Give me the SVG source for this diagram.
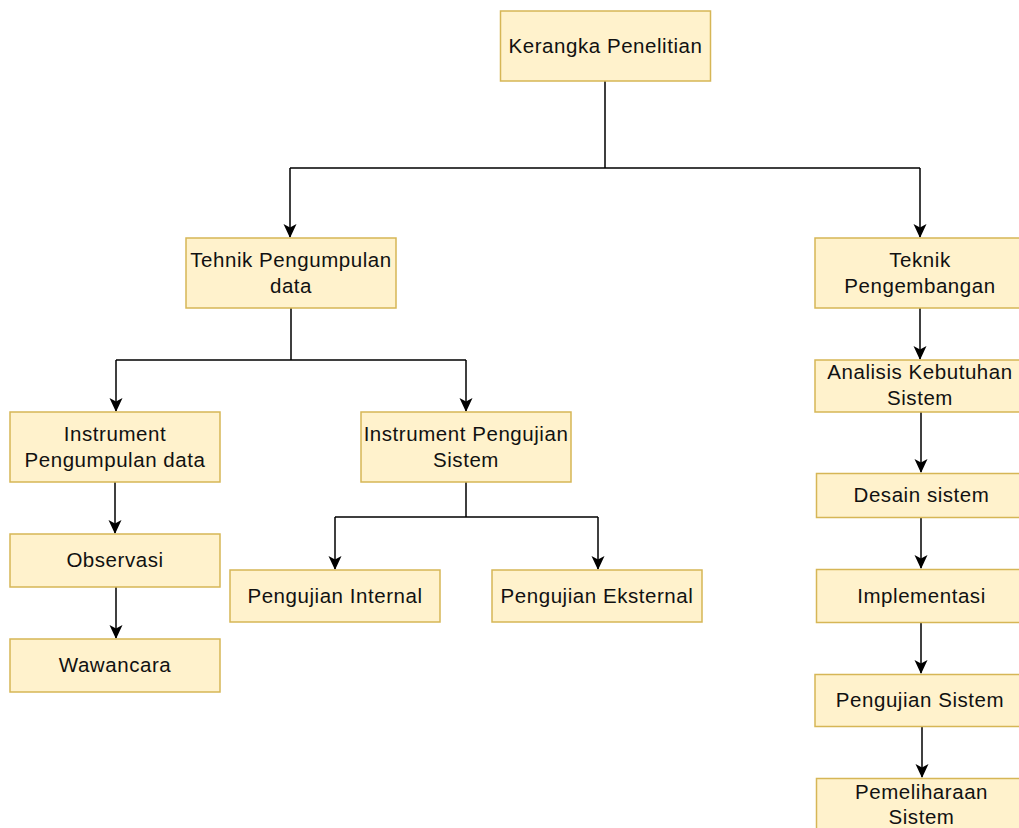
<svg xmlns="http://www.w3.org/2000/svg" width="1019" height="828" viewBox="0 0 1019 828">
<style>
.box{fill:#fff2cc;stroke:#d6b656;stroke-width:1.5}
.t{font-family:"Liberation Sans",Arial,sans-serif;font-size:20.5px;letter-spacing:0.55px;fill:#111;text-anchor:middle}
.c{fill:none;stroke:#000;stroke-width:1.5}
.a{marker-end:url(#arr)}
</style>
<defs>
<marker id="arr" markerUnits="userSpaceOnUse" viewBox="0 0 14 14" refX="13" refY="7" markerWidth="14" markerHeight="14" orient="auto">
<path d="M0,0.5 L14,7 L0,13.5 L3.5,7 Z" fill="#000"/>
</marker>
</defs>
<rect width="1019" height="828" fill="#fff"/>
<g id="connectors">
<path class="c" d="M605,81 V168 M290,168 H920"/>
<path class="c a" d="M290,168 V237"/>
<path class="c a" d="M920,168 V237"/>
<path class="c" d="M291,308 V360 M116,360 H466"/>
<path class="c a" d="M116,360 V411"/>
<path class="c a" d="M466,360 V411"/>
<path class="c a" d="M115,482 V533"/>
<path class="c a" d="M116,587 V638"/>
<path class="c" d="M466,482 V517 M335,517 H598"/>
<path class="c a" d="M335,517 V569"/>
<path class="c a" d="M598,517 V569"/>
<path class="c a" d="M920,308 V359"/>
<path class="c a" d="M921,412 V472"/>
<path class="c a" d="M921,517 V568"/>
<path class="c a" d="M921,622 V673"/>
<path class="c a" d="M922,727 V777"/>
</g>
<g id="n-kerangka"><rect class="box" x="500.5" y="11" width="210" height="70"/><text class="t" x="605.5" y="53">Kerangka Penelitian</text></g>
<g id="n-tehnik"><rect class="box" x="186" y="238" width="210" height="70"/><text class="t" x="291" y="267">Tehnik Pengumpulan</text><text class="t" x="291" y="293">data</text></g>
<g id="n-teknik"><rect class="box" x="815" y="238" width="210" height="70"/><text class="t" x="920" y="267">Teknik</text><text class="t" x="920" y="293">Pengembangan</text></g>
<g id="n-instr-pengumpulan"><rect class="box" x="10" y="412" width="210" height="70"/><text class="t" x="115" y="441">Instrument</text><text class="t" x="115" y="467">Pengumpulan data</text></g>
<g id="n-instr-pengujian"><rect class="box" x="361" y="412" width="210" height="70"/><text class="t" x="466" y="441">Instrument Pengujian</text><text class="t" x="466" y="467">Sistem</text></g>
<g id="n-observasi"><rect class="box" x="10" y="534" width="210" height="53"/><text class="t" x="115" y="567">Observasi</text></g>
<g id="n-wawancara"><rect class="box" x="10" y="639" width="210" height="53"/><text class="t" x="115" y="672">Wawancara</text></g>
<g id="n-internal"><rect class="box" x="230" y="570" width="210" height="52"/><text class="t" x="335" y="603">Pengujian Internal</text></g>
<g id="n-eksternal"><rect class="box" x="492" y="570" width="210" height="52"/><text class="t" x="597" y="603">Pengujian Eksternal</text></g>
<g id="n-analisis"><rect class="box" x="815" y="360" width="210" height="52"/><text class="t" x="920" y="379">Analisis Kebutuhan</text><text class="t" x="920" y="405">Sistem</text></g>
<g id="n-desain"><rect class="box" x="816.5" y="473.5" width="210" height="44"/><text class="t" x="921.5" y="502">Desain sistem</text></g>
<g id="n-implementasi"><rect class="box" x="816.5" y="569.5" width="210" height="53"/><text class="t" x="921.5" y="603">Implementasi</text></g>
<g id="n-pengujian-sistem"><rect class="box" x="815" y="674.5" width="210" height="52"/><text class="t" x="920" y="707">Pengujian Sistem</text></g>
<g id="n-pemeliharaan"><rect class="box" x="816.5" y="778.5" width="210" height="52"/><text class="t" x="921.5" y="799">Pemeliharaan</text><text class="t" x="921.5" y="824">Sistem</text></g>
</svg>
